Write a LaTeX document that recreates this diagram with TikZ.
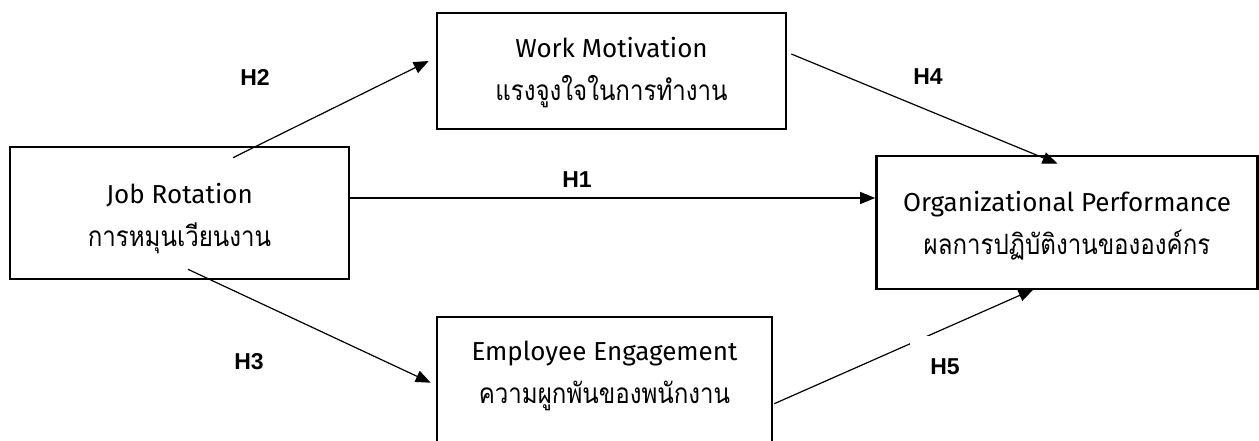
\documentclass[tikz,border=0pt]{standalone}
\usepackage{fontspec}
\setmainfont{Liberation Sans}
\newfontfamily\thaifont[Script=Thai,FakeStretch=0.86]{Loma}
\newfontfamily\latinfont{Fira Sans}
\usetikzlibrary{arrows.meta,calc}

% two-line caption: English name above, Thai name below
\newcommand{\boxlines}[2]{{\latinfont\fontsize{26}{43}\selectfont #1}\\{\thaifont\fontsize{28}{43}\selectfont #2}}

\begin{document}
\begin{tikzpicture}[x=1pt,y=-1pt,
  box/.style={draw, line width=2.6pt, rectangle, inner sep=0pt},
  boxtext/.style={font=\fontsize{24}{43}\selectfont, align=center, inner sep=0pt},
  link/.style={line width=1.2pt, -{Triangle[length=15pt,width=12pt]}},
  hyp/.style={font=\bfseries\fontsize{23}{23}\selectfont, inner sep=0pt},
  hypbox/.style={hyp, fill=white, minimum width=70pt, minimum height=62pt}]

\useasboundingbox (0,0) rectangle (1259,441);

% variable boxes
\node[box, minimum width=339pt, minimum height=132pt] (job) at (179.5,213) {};
\node[box, minimum width=349pt, minimum height=116pt] (wm)  at (611.5,71) {};
\node[box, minimum width=381pt, minimum height=133pt] (org) at (1067,222.5) {};
\node[box, minimum width=335pt, minimum height=140pt] (emp) at (604.5,387) {};

% box captions
\node[boxtext] (jobt) at ($(job.center)+(0,5.5)$) {\boxlines{Job Rotation}{การหมุนเวียนงาน}};
\node[boxtext] (wmt)  at ($(wm.center)+(0,2)$) {\boxlines{Work Motivation}{แรงจูงใจในการทำงาน}};
\node[boxtext] (orgt) at ($(org.center)+(0,3)$) {\boxlines{Organizational Performance}{ผลการปฏิบัติงานขององค์กร}};
\node[boxtext] (empt) at ($(emp.north)+(0,60)$) {\boxlines{Employee Engagement}{ความผูกพันของพนักงาน}};

% connector end points
\coordinate (h2a) at ($(job.north)+(53.5,12)$);
\coordinate (h2b) at ($(wm.west)+(-7,-10)$);
\coordinate (h1a) at ($(job.east)+(0,-15)$);
\coordinate (h1b) at ($(org.west)+(0,-24.5)$);
\coordinate (h3a) at ($(job.south)+(8.5,-11)$);
\coordinate (h3b) at ($(emp.north west)+(-5,67)$);
\coordinate (h4a) at ($(wm.east)+(4,-17)$);
\coordinate (h4b) at ($(org.north)+(-9.5,9)$);
\coordinate (h5a) at ($(emp.north east)+(1,88)$);
\coordinate (h5b) at ($(org.south)+(-33.5,-1)$);

% hypothesised paths
\draw[link] (h1a) -- (h1b);
\draw[link] (h2a) -- (h2b);
\draw[link] (h3a) -- (h3b);
\draw[link] (h4a) -- (h4b);
\draw[link] (h5a) -- (h5b);

% path labels
\node[hyp] (lh1) at (577,180) {H1};
\node[hyp] (lh2) at (255,77) {H2};
\node[hyp] (lh3) at (249,362) {H3};
\node[hyp] (lh4) at (928,77) {H4};
\node[hypbox] (lh5) at (945,367) {H5};
\end{tikzpicture}
\end{document}
